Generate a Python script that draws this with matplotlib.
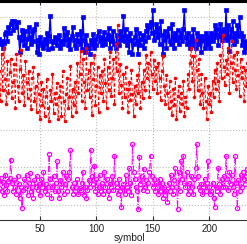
import numpy as np
import matplotlib
matplotlib.use("Agg")
import matplotlib.pyplot as plt

plt.rcParams['font.family'] = ['Liberation Sans', 'DejaVu Sans']

first_symbol = 14
blue = [44.3, 42.8, 43.6, 41.9, 43.2, 45.4, 46.1, 43.7, 47.3, 45.8,
        48.2, 48.9, 46.6, 49.1, 48.8, 47.5, 48.7, 44.6, 40.8, 43.9,
        46.7, 45.2, 42.6, 46.3, 41.7, 44.1, 47.4, 44.8, 42.9, 46.2,
        43.6, 46.9, 48.3, 40.6, 43.8, 40.2, 44.7, 43.5, 42.7, 41.8,
        44.2, 42.9, 45.8, 41.6, 45.1, 50.3, 43.7, 41.9, 43.3, 44.6,
        43.9, 42.5, 44.4, 45.2, 41.8, 43.6, 42.8, 47.2, 43.9, 45.3,
        46.1, 42.7, 44.2, 41.6, 44.9, 47.3, 43.8, 42.6, 41.9, 45.4,
        43.7, 42.8, 46.2, 41.5, 50.1, 43.9, 40.7, 45.2, 42.6, 41.8,
        40.3, 43.8, 42.9, 45.4, 41.7, 44.3, 42.6, 45.1, 46.3, 43.7,
        44.8, 42.7, 43.9, 46.1, 42.8, 44.3, 45.2, 47.1, 41.8, 44.9,
        43.6, 46.2, 42.8, 41.9, 45.3, 43.7, 42.6, 46.4, 43.8, 44.9,
        50.2, 43.6, 46.9, 42.7, 45.1, 40.6, 45.8, 43.9, 40.2, 42.8,
        44.7, 46.8, 43.6, 40.3, 45.9, 42.7, 44.1, 45.3, 41.8, 43.7,
        46.2, 47.9, 44.6, 47.3, 48.8, 45.7, 51.9, 43.8, 46.1, 48.2,
        44.7, 47.1, 42.8, 48.9, 45.2, 40.1, 43.8, 46.3, 41.7, 44.9,
        47.2, 43.6, 42.9, 48.1, 44.8, 41.7, 45.9, 43.8, 46.7, 42.9,
        44.6, 45.8, 43.7, 46.9, 51.8, 44.7, 42.8, 45.9, 43.6, 41.8,
        44.9, 42.7, 46.8, 43.6, 41.9, 45.7, 42.8, 44.9, 43.7, 40.8,
        43.8, 45.1, 41.7, 45.9, 42.8, 44.7, 43.6, 41.9, 45.8, 43.7,
        44.8, 47.9, 45.6, 46.8, 42.7, 44.9, 48.1, 43.8, 46.9, 45.7,
        44.6, 51.8, 43.9, 47.8, 40.9, 46.8, 44.7, 48.9, 42.8, 45.9,
        43.7, 47.8, 44.9, 50.1, 45.8, 42.7, 44.9, 40.8, 43.7, 41.9, 42.8]
red = [35.6, 27.8, 40.3, 30.7, 41.9, 33.6, 26.8, 38.2, 29.7, 35.3,
       38.8, 28.6, 32.7, 37.4, 25.9, 40.2, 31.6, 27.7, 36.3, 41.2,
       29.8, 34.6, 26.7, 38.3, 32.8, 28.6, 35.7, 30.8, 25.6, 33.9,
       36.7, 27.6, 31.8, 24.7, 34.8, 29.6, 22.8, 32.7, 26.6, 30.8,
       23.7, 28.9, 33.6, 25.8, 22.3, 30.7, 27.6, 34.8, 24.6, 29.7,
       26.8, 32.6, 22.9, 28.7, 31.8, 23.6, 35.7, 27.8, 22.4, 29.6,
       33.8, 25.7, 28.8, 36.9, 23.7, 30.8, 26.6, 32.7, 24.8, 37.9,
       29.7, 34.8, 40.9, 27.6, 38.8, 32.7, 25.8, 41.9, 30.6, 35.8,
       28.7, 37.8, 23.9, 33.6, 39.8, 26.7, 31.8, 36.6, 24.8, 34.7,
       29.8, 35.6, 27.7, 38.9, 32.6, 25.8, 36.7, 30.6, 40.8, 28.9,
       33.7, 38.8, 26.9, 42.8, 35.7, 47.8, 29.8, 37.6, 31.9, 25.7,
       34.8, 28.7, 36.6, 30.9, 24.8, 32.7, 27.9, 35.8, 29.6, 23.8,
       31.7, 26.9, 34.6, 29.8, 37.7, 25.9, 32.8, 28.6, 35.9, 30.7,
       39.8, 33.7, 37.9, 28.8, 40.7, 34.9, 30.8, 38.7, 32.9, 36.8,
       29.9, 37.7, 33.8, 27.9, 35.6, 39.7, 31.8, 26.9, 34.7, 29.8,
       25.8, 32.9, 27.7, 23.9, 30.8, 26.7, 33.9, 22.8, 28.9, 31.7,
       24.9, 29.7, 26.8, 32.9, 23.8, 28.7, 25.9, 34.8, 30.9, 37.8,
       41.8, 32.9, 39.7, 28.8, 43.8, 35.9, 30.7, 38.9, 26.8, 34.9,
       29.8, 25.9, 33.7, 27.8, 22.9, 31.8, 26.9, 29.7, 24.8, 32.9,
       28.8, 35.9, 30.8, 37.7, 32.9, 27.8, 39.8, 33.7, 45.2, 36.8,
       31.9, 38.7, 34.8, 41.9, 29.8, 37.9, 43.7, 32.8, 39.9, 35.8,
       30.9, 40.8, 34.7, 28.9, 38.8, 33.9, 36.7, 27.8, 35.9, 31.8, 37.7]
magenta = [4.6, 7.3, 3.8, 6.2, 2.7, 8.1, 5.4, 3.6, 6.3, 7.2,
           12.1, 5.8, 3.7, 6.6, 4.9, 2.8, 7.7, 5.6, 1.8, 4.7,
           -0.8, 3.9, 6.8, 4.6, 7.9, 2.7, 5.8, 8.6, 3.7, 4.8,
           1.9, 6.7, 4.8, 7.6, 3.9, 5.7, 2.6, 6.9, 4.7, 8.8,
           3.8, 5.6, 2.9, 4.7, 13.7, 6.8, 1.8, 4.9, 7.7, 3.6,
           5.9, 11.7, 3.8, 1.9, 6.7, 4.8, 8.7, 2.9, 5.7, 7.8,
           3.7, 6.8, 8.9, 14.6, 4.7, 2.9, 5.8, 3.7, 4.9, 6.8,
           2.8, 4.6, 3.9, 5.8, 8.8, 2.7, 4.9, 1.8, 3.9, 6.7,
           4.8, 14.6, 7.8, 5.7, 10.5, 3.8, 6.9, 2.8, 4.7, 7.9,
           3.7, 5.8, 2.9, 8.8, 4.7, 6.9, 3.8, 1.9, 5.7, 4.8,
           7.8, 3.9, 13.1, 5.8, 4.7, 2.9, 6.8, 3.7, -0.6, 4.9,
           5.7, 2.8, 7.9, 4.8, 3.7, 9.8, 5.9, 2.7, 16.1, 8.7,
           6.8, 4.9, 3.8, -1.2, 12.8, 5.7, 7.8, 3.9, 9.7, 4.8,
           6.7, 3.8, 5.9, 8.8, 13.1, 7.7, 4.8, 6.9, 3.7, 5.8,
           4.7, 2.9, 6.8, 3.7, 5.9, 1.8, 4.9, 2.7, 3.8, 0.9,
           5.8, 3.7, 7.9, 4.8, 2.9, 6.7, 9.8, 4.9, -1.0, 8.8,
           3.8, 11.7, 6.9, 13.1, 5.8, 4.7, 8.9, 2.8, 5.9, 3.7,
           7.8, 4.9, 2.8, 6.9, 9.8, 16.1, 7.7, 4.8, 3.9, 5.7,
           2.8, 4.9, 6.8, 3.7, 5.9, 11.7, 4.8, 2.9, 3.8, 5.9,
           1.8, -0.5, 4.9, 3.8, 9.9, 5.7, 2.8, 6.9, 4.8, 7.7,
           4.9, 13.1, 6.8, 3.9, 8.8, 5.7, 7.9, 4.8, 2.9, 13.1,
           5.8, -0.9, 6.7, 3.8, 7.9, 4.7, 8.8, 6.9, 5.7, 7.8, 9.7]
xticks = [50, 100, 150, 200]
yticks = [0, 10, 20, 30, 40, 50]

symbols = np.arange(first_symbol, first_symbol + len(blue))

fig = plt.figure(figsize=(2.47, 2.44), dpi=100)
ax = fig.add_axes([0, 24/244, 1, 219/244])

ax.plot(symbols, blue, '-', color=(0, 0, 1), lw=1.0, marker='s', ms=2.3,
        mfc=(0, 0, 1), mec=(0, 0, 1), mew=0.5)
ax.plot(symbols, red, '--', color=(1, 0, 0), lw=0.6, marker='.', ms=3.2,
        dashes=(4, 2.5))
ax.plot(symbols, magenta, '-.', color=(1, 0, 1), lw=0.7, marker='o', ms=3,
        mfc='none', mew=0.9)

ax.set_xlim(14.46, 233.6)
ax.set_ylim(-4, 54.3)
ax.set_xticks(xticks)
ax.set_yticks(yticks)
ax.set_yticklabels([])
ax.grid(True, ls=':', color='#bbbbbb', lw=0.8)
ax.tick_params(axis='x', direction='in', length=3, pad=3, labelsize=7,
               top=True, color='#333333', labelcolor='#222222')
ax.tick_params(axis='y', direction='in', length=0)
ax.spines['left'].set_visible(False)
ax.spines['right'].set_visible(False)
ax.spines['top'].set_linewidth(2.2)
ax.spines['bottom'].set_linewidth(0.8)
ax.spines['bottom'].set_color('#333333')

fig.text(130/247, 11/244, 'symbol', ha='center', va='top', fontsize=7.2,
         color='#222222')

fig.savefig('out.png', dpi=100)
